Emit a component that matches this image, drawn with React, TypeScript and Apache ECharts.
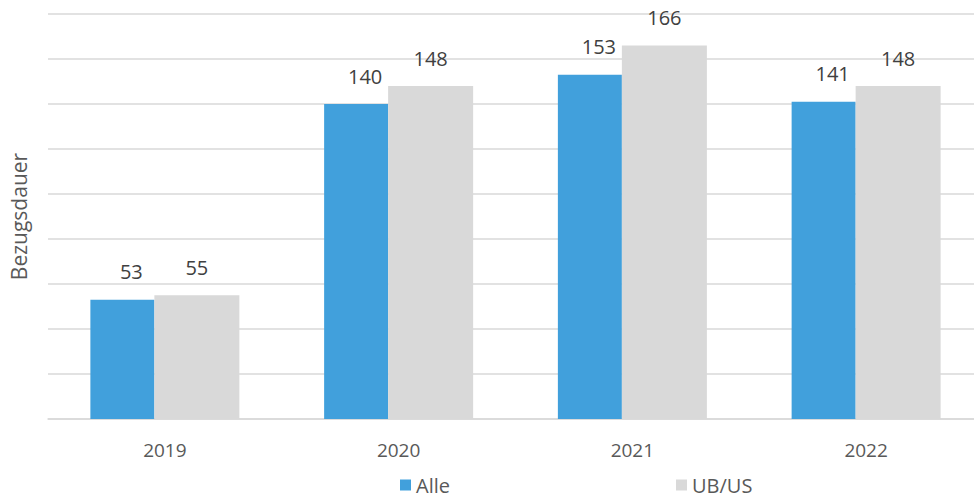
import React, { useEffect, useRef } from "react";
import * as echarts from "echarts";

const categories = ["2019", "2020", "2021", "2022"];
const alleValues = [53, 140, 153, 141];
const ubusValues = [55, 148, 166, 148];
const seriesNames = ["Alle", "UB/US"];
const yAxisName = "Bezugsdauer";

const FONT = "'Open Sans', 'Noto Sans', sans-serif";

export default function App() {
  const ref = useRef<HTMLDivElement>(null);
  useEffect(() => {
    document.body.style.margin = "0";
    const chart = echarts.init(ref.current!, null, { renderer: "svg" });
    chart.setOption({
      animation: false,
      backgroundColor: "#ffffff",
      textStyle: { fontFamily: FONT },
      grid: { left: 46, right: 0, top: 14, bottom: 78, containLabel: false },
      legend: {
        left: 400,
        top: 474,
        padding: 0,
        itemWidth: 11,
        itemHeight: 11,
        itemGap: 226,
        icon: "rect",
        textStyle: { fontSize: 20, lineHeight: 22, color: "#595959", fontFamily: FONT },
        data: seriesNames,
      },
      xAxis: {
        type: "category",
        data: categories,
        axisLine: { show: true, lineStyle: { color: "#D9D9D9", width: 1.5 } },
        axisTick: { show: false },
        axisLabel: { margin: 21, fontSize: 19, color: "#595959", fontFamily: FONT },
      },
      yAxis: {
        type: "value",
        min: 0,
        max: 180,
        interval: 20,
        name: yAxisName,
        nameLocation: "middle",
        nameGap: 19,
        nameTextStyle: { fontSize: 21, color: "#595959", fontFamily: FONT },
        axisLine: { show: false },
        axisTick: { show: false },
        axisLabel: { show: false },
        splitLine: { lineStyle: { color: "#D9D9D9", width: 1.5 } },
      },
      series: [
        {
          name: seriesNames[0],
          type: "bar",
          data: alleValues,
          barWidth: 64,
          barGap: "0%",
          itemStyle: { color: "#41A0DC" },
          label: {
            show: true,
            position: "top",
            distance: 18,
            offset: [9, 0],
            fontSize: 20,
            color: "#404040",
            fontFamily: FONT,
          },
        },
        {
          name: seriesNames[1],
          type: "bar",
          data: ubusValues,
          barWidth: 85,
          barGap: "0%",
          itemStyle: { color: "#D9D9D9" },
          label: {
            show: true,
            position: "top",
            distance: 18,
            fontSize: 20,
            color: "#404040",
            fontFamily: FONT,
          },
        },
      ],
    });
    return () => chart.dispose();
  }, []);
  return (
    <div style={{ width: 974, height: 497, overflow: "hidden", position: "relative" }}>
      <div ref={ref} style={{ width: 983, height: 497 }} />
    </div>
  );
}
